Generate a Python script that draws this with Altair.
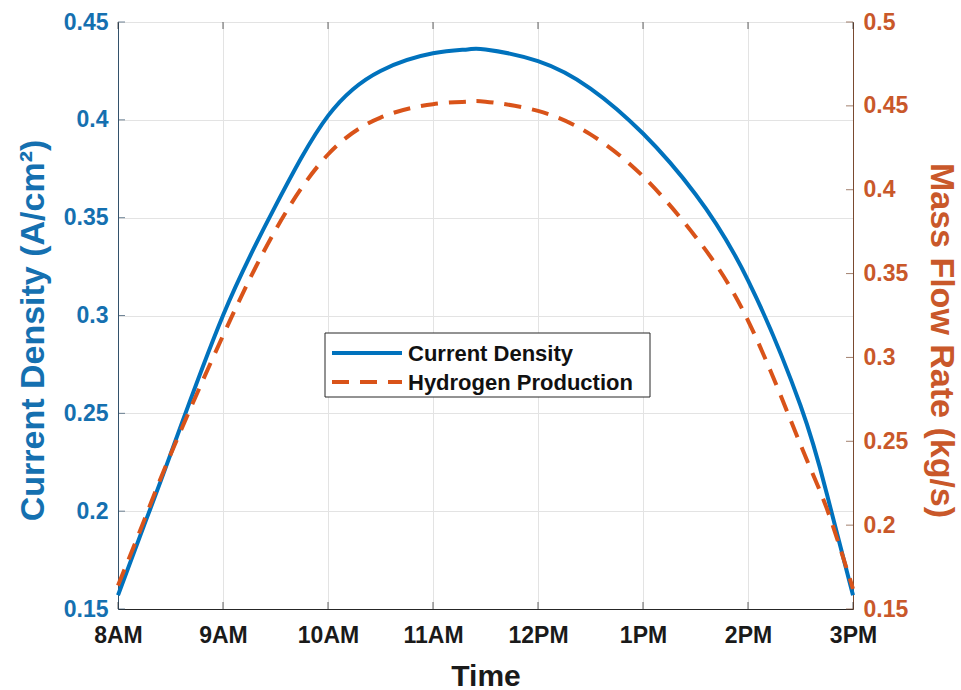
import altair as alt
import pandas as pd

# Time of day (decimal hours) and the two simulated responses
hours = [8, 8.25, 8.5, 9, 9.5, 10, 10.5, 11, 11.33, 11.5, 12, 12.5, 13, 13.5, 14, 14.5, 14.75, 15]
current_density = [0.157, 0.193, 0.229, 0.300, 0.356, 0.402, 0.425, 0.434, 0.436, 0.436,
                   0.430, 0.416, 0.393, 0.362, 0.318, 0.254, 0.209, 0.157]
hydrogen_rate = [0.164, 0.203, 0.242, 0.313, 0.376, 0.421, 0.443, 0.451, 0.4525, 0.4525,
                 0.447, 0.433, 0.408, 0.372, 0.322, 0.248, 0.210, 0.162]

series_names = ["Current Density", "Hydrogen Production"]
hour_ticks = [8, 9, 10, 11, 12, 13, 14, 15]
hour_labels = ["8AM", "9AM", "10AM", "11AM", "12PM", "1PM", "2PM", "3PM"]
left_ticks = [0.15, 0.2, 0.25, 0.3, 0.35, 0.4, 0.45]
right_ticks = [0.15, 0.2, 0.25, 0.3, 0.35, 0.4, 0.45, 0.5]

BLUE = "#0072BD"
ORANGE = "#D95319"
BLUE_TXT = "#1570B0"
ORANGE_TXT = "#C9582A"
LEFT_DOMAIN = "#33516b"
RIGHT_DOMAIN = "#7a4a30"
DARK = "#262626"
GRID = "#e3e3e3"
FONT = "Liberation Sans"
W, H = 735, 587
DASH = [17, 11]

cd = pd.DataFrame({"hour": hours, "value": current_density, "series": series_names[0]})
hp = pd.DataFrame({"hour": hours, "value": hydrogen_rate, "series": series_names[1]})
xt = pd.DataFrame({"hour": hour_ticks})
lt = pd.DataFrame({"value": left_ticks})
rt = pd.DataFrame({"value": right_ticks})

label_expr = "[" + ",".join(f"'{s}'" for s in hour_labels) + "][round(datum.value) - 8]"

x_scale = alt.Scale(domain=[8, 15], nice=False, zero=False)
left_scale = alt.Scale(domain=[0.15, 0.45], nice=False, zero=False)
right_scale = alt.Scale(domain=[0.15, 0.5], nice=False, zero=False)

x_axis = alt.Axis(
    values=hour_ticks, labelExpr=label_expr, title="Time",
    grid=True, gridColor=GRID, gridWidth=1, ticks=False,
    labelFlush=False, labelBound=False, labelOverlap=False,
    domainColor=DARK, labelFont=FONT, labelFontSize=23, labelFontWeight="bold",
    labelColor="#1a1a1a", labelPadding=15,
    titleFont=FONT, titleFontSize=30, titleFontWeight="bold", titleColor="#1a1a1a",
    titleY=76, titleBaseline="alphabetic",
)
left_axis = alt.Axis(
    orient="left", values=left_ticks, format="~g", title="Current Density (A/cm²)",
    grid=True, gridColor=GRID, gridWidth=1, ticks=False,
    labelFlush=False, labelBound=False, labelOverlap=False,
    domainColor=LEFT_DOMAIN, labelFont=FONT, labelFontSize=23, labelFontWeight="bold",
    labelColor=BLUE_TXT, labelPadding=10,
    titleFont=FONT, titleFontSize=34, titleFontWeight="bold", titleColor=BLUE_TXT,
    titleAngle=270, titleX=-75, titleY=308, titleBaseline="alphabetic", titleAlign="center",
)
right_axis = alt.Axis(
    orient="right", values=right_ticks, format="~g", title="Mass Flow Rate (kg/s)",
    grid=False, ticks=False,
    labelFlush=False, labelBound=False, labelOverlap=False,
    domainColor=RIGHT_DOMAIN, labelFont=FONT, labelFontSize=23, labelFontWeight="bold",
    labelColor=ORANGE_TXT, labelPadding=10,
    titleFont=FONT, titleFontSize=34, titleFontWeight="bold", titleColor=ORANGE_TXT,
    titleAngle=90, titleX=77, titleY=318, titleBaseline="alphabetic", titleAlign="center",
)

X = alt.X("hour:Q", scale=x_scale, axis=x_axis)
Y_LEFT = alt.Y("value:Q", scale=left_scale, axis=left_axis)
Y_RIGHT = alt.Y("value:Q", scale=right_scale, axis=right_axis)

blue_line = alt.Chart(cd).mark_line(
    color=BLUE, strokeWidth=4, interpolate="natural"
).encode(x=X, y=Y_LEFT)

orange_line = alt.Chart(hp).mark_line(
    color=ORANGE, strokeWidth=4, strokeDash=DASH, interpolate="natural"
).encode(x=X, y=Y_RIGHT)

# Small inward tick marks on all four sides of the box
x_ticks_bottom = alt.Chart(xt).mark_tick(color=DARK, size=7, thickness=1).encode(
    x=X, y=alt.value(H - 3.5))
x_ticks_top = alt.Chart(xt).mark_tick(color=DARK, size=7, thickness=1).encode(
    x=X, y=alt.value(3.5))
left_tick_marks = alt.Chart(lt).mark_tick(
    color=LEFT_DOMAIN, size=7, thickness=1, orient="horizontal"
).encode(y=Y_LEFT, x=alt.value(3.5))
right_tick_marks = alt.Chart(rt).mark_tick(
    color=RIGHT_DOMAIN, size=7, thickness=1, orient="horizontal"
).encode(y=Y_RIGHT, x=alt.value(W - 3.5))

# Boxed legend in the middle of the plot
one = pd.DataFrame({"k": [0]})
legend_box = alt.Chart(one).mark_rect(fill="white", stroke=DARK, strokeWidth=1).encode(
    x=alt.value(207), x2=alt.value(532), y=alt.value(311), y2=alt.value(375))
legend_parts = [legend_box]
for i, (name, col) in enumerate(zip(series_names, [BLUE, ORANGE])):
    row_y = 331 + 29 * i
    rule_kw = dict(color=col, strokeWidth=4)
    if i == 1:
        rule_kw["strokeDash"] = DASH
    legend_parts.append(
        alt.Chart(one).mark_rule(**rule_kw).encode(
            x=alt.value(214), x2=alt.value(284), y=alt.value(row_y))
    )
    legend_parts.append(
        alt.Chart(one).mark_text(
            align="left", baseline="middle", font=FONT, fontSize=22,
            fontWeight="bold", color="#111111", text=name,
        ).encode(x=alt.value(290), y=alt.value(row_y + 1))
    )

left_side = alt.layer(blue_line, left_tick_marks, x_ticks_bottom, x_ticks_top)
right_side = alt.layer(orange_line, right_tick_marks)

chart = alt.layer(left_side, right_side, *legend_parts).resolve_scale(y="independent").properties(
    width=W, height=H,
    padding={"left": 118, "top": 22, "right": 108, "bottom": 81},
    autosize=alt.AutoSizeParams(type="none"),
    background="white",
).configure_view(stroke=DARK, strokeWidth=1)

chart.save("out.html", embed_options={"renderer": "svg", "actions": False})
